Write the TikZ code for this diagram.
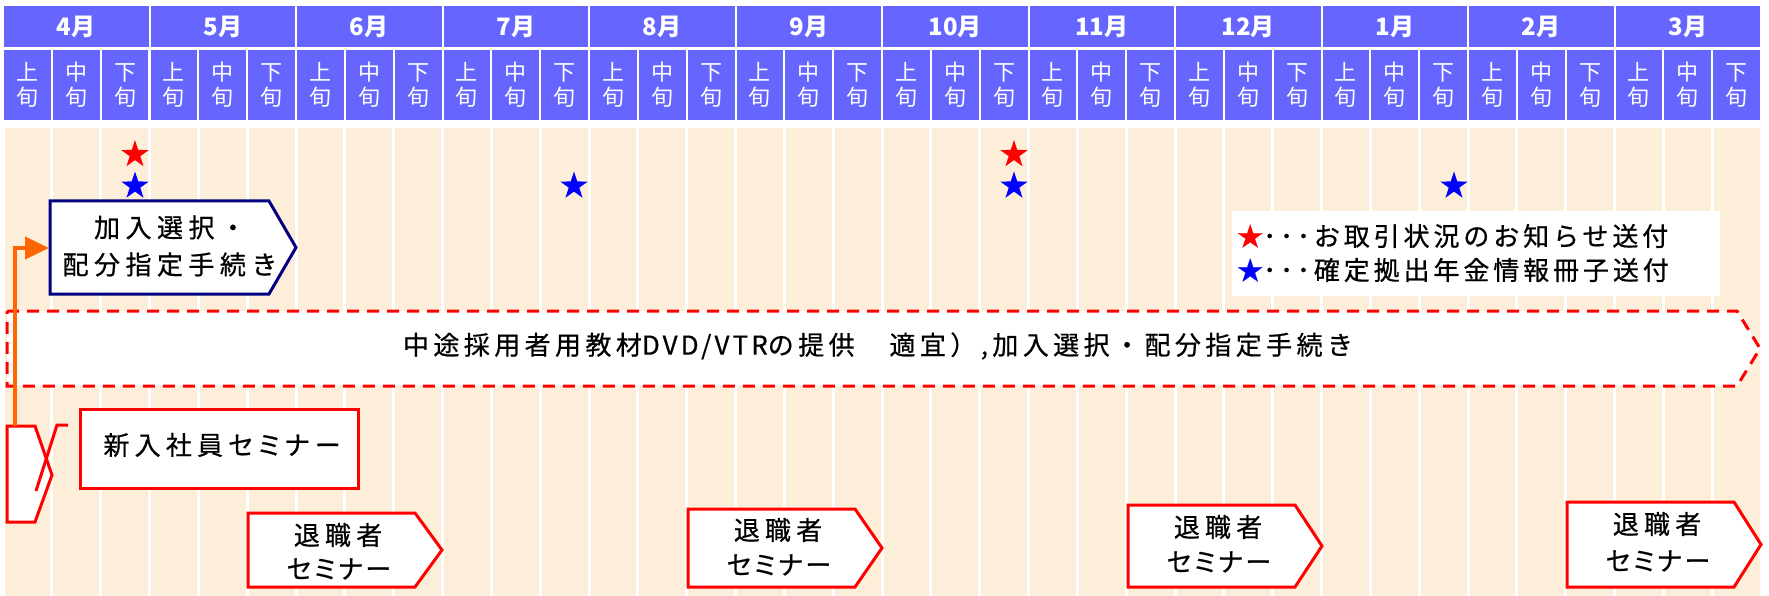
\documentclass[tikz,border=0pt]{standalone}
\usepackage{fontspec}
\setmainfont{Noto Sans CJK JP}
\newfontfamily\jp{Noto Sans CJK JP}
\newfontfamily\jpA[LetterSpace=21,FakeBold=0.6]{Noto Sans CJK JP}
\newfontfamily\jpM[LetterSpace=17,FakeBold=0.6]{Noto Sans CJK JP}
\newfontfamily\jpB[LetterSpace=15,FakeBold=0.6]{Noto Sans CJK JP}
\newfontfamily\jpL[LetterSpace=12,FakeBold=0.6]{Noto Sans CJK JP}
\newfontfamily\jpC[LetterSpace=20,CharacterWidth=AlternateProportional,FakeBold=0.6]{Noto Sans CJK JP}
\newfontfamily\jpD[LetterSpace=20,FakeBold=0.6]{Noto Sans CJK JP}
\newfontfamily\jpE[LetterSpace=10,CharacterWidth=AlternateProportional,FakeBold=0.6]{Noto Sans CJK JP}
\usetikzlibrary{shapes.geometric,arrows.meta}
\definecolor{hdrblue}{RGB}{102,102,255}
\definecolor{beige}{RGB}{253,238,218}
\definecolor{navyb}{RGB}{0,0,128}
\definecolor{orangeA}{RGB}{255,102,0}
\definecolor{redA}{RGB}{255,0,0}
\definecolor{blueA}{RGB}{0,0,255}
\begin{document}
\begin{tikzpicture}[x=1pt,y=-1pt,
  monthcell/.style={fill=hdrblue,draw=white,line width=2pt,minimum width=146.5pt,minimum height=43pt,inner sep=0pt,text=white,font=\jp\bfseries\fontsize{24}{26}\selectfont},
  subcell/.style={fill=hdrblue,draw=white,line width=2pt,minimum width=48.83pt,minimum height=72pt,inner sep=0pt,text=white,align=center,font=\jp\fontsize{22}{25}\selectfont},
  mstar/.style={star,star points=5,star point ratio=2.6,fill=#1,draw=none,inner sep=0pt,minimum size=29pt},
  dashbox/.style={draw=redA,line width=3pt,dash pattern=on 12pt off 8pt,fill=white},
  bluebox/.style={draw=navyb,line width=3pt,fill=white},
  redshape/.style={draw=redA,line width=3pt,fill=white},
  redline/.style={draw=redA,line width=3pt},
  orangearrow/.style={draw=orangeA,line width=4pt,-{Triangle[length=24pt,width=22pt]}},
  txtA/.style={inner sep=0pt,align=center,font=\jpA\fontsize{26}{37}\selectfont},
  txtM/.style={inner sep=0pt,align=center,font=\jpM\fontsize{26}{37}\selectfont},
  txtB/.style={inner sep=0pt,anchor=west,font=\jpB\fontsize{26}{28}\selectfont},
  txtC/.style={inner sep=0pt,font=\jpC\fontsize{26}{28}\selectfont},
  txtD/.style={inner sep=0pt,font=\jpD\fontsize{26}{28}\selectfont},
  txtE/.style={inner sep=0pt,font=\jpE\fontsize{26}{28}\selectfont}
]
\useasboundingbox (0,0) rectangle (1769,596);
\fill[white] (0,0) rectangle (1769,596);
% background columns
\foreach \j in {0,...,35}
  \fill[beige] ({3+48.833*\j+1.5},128) rectangle ({3+48.833*(\j+1)-1.5},596);
% header
\foreach \m [count=\i from 0] in {4,5,6,7,8,9,10,11,12,1,2,3}
  \node[monthcell] (mon\i) at ({3+146.5*\i+73.25},26.5) {\m 月};
\foreach \i in {0,...,11}
  \foreach \t [count=\n from 0] in {上,中,下}
    \node[subcell] (sub\i-\n) at ({3+146.5*\i+48.833*(\n+0.5)},85) {\t\\旬};
% stars
\node[mstar=redA] (s1r) at (135,154.5) {};
\node[mstar=blueA] (s1b) at (135,186) {};
\node[mstar=blueA] (s2b) at (574,186) {};
\node[mstar=redA] (s3r) at (1014,154.5) {};
\node[mstar=blueA] (s3b) at (1014,186) {};
\node[mstar=blueA] (s4b) at (1454,186) {};
% blue box
\path[bluebox] (50,201) -- (269,201) -- (296,247.5) -- (269,294) -- (50,294) -- cycle;
\coordinate (bluein) at (49,248);
\node[txtA] (bluetext) at (170,246) {加入選択・\\配分指定手続き};
% dashed band
\path[dashbox] (7,311) -- (1737,311) -- (1760,348.5) -- (1737,386) -- (7,386) -- cycle;
\node[txtM] (midtext) at (878,346) {中途採用者用教材{\jpL DVD/VTR}の提供　適宜）,加入選択・配分指定手続き};
% legend
\node[fill=white,inner sep=0pt,minimum width=488pt,minimum height=85pt] (legend) at (1476,253.5) {};
\node[txtB] (leg1) at (1237,236) {\textcolor{redA}{★}･･･お取引状況のお知らせ送付};
\node[txtB] (leg2) at (1237,270) {\textcolor{blueA}{★}･･･確定拠出年金情報冊子送付};
% left broken shape
\path[redshape] (7,426) -- (35,426) -- (52,475) -- (35,522) -- (7,522) -- cycle;
\path[redline] (68,425) -- (57,425) -- (36,491);
\coordinate (src) at (14.5,426);
\draw[orangearrow] (src) |- (bluein);
% new employee seminar
\node[redshape,minimum width=278pt,minimum height=79pt,inner sep=0pt] (newemp) at (219,448.5) {};
\node[txtC] (newemptext) at (222,445) {新入社員セミナー};
% retirement seminars
\foreach \L/\T/\ya/\yb [count=\n] in {248/513/535/569, 688/509/530/565, 1128/505/527/562, 1567/502/524/561} {
  \path[redshape] (\L,\T) -- ({\L+167},\T) -- ({\L+194},{(\T+587)/2}) -- ({\L+167},587) -- (\L,587) -- cycle;
  \node[txtD] (ret\n a) at ({\L+90},\ya) {退職者};
  \node[txtE] (ret\n b) at ({\L+91},\yb) {セミナー};
}
\end{tikzpicture}
\end{document}
